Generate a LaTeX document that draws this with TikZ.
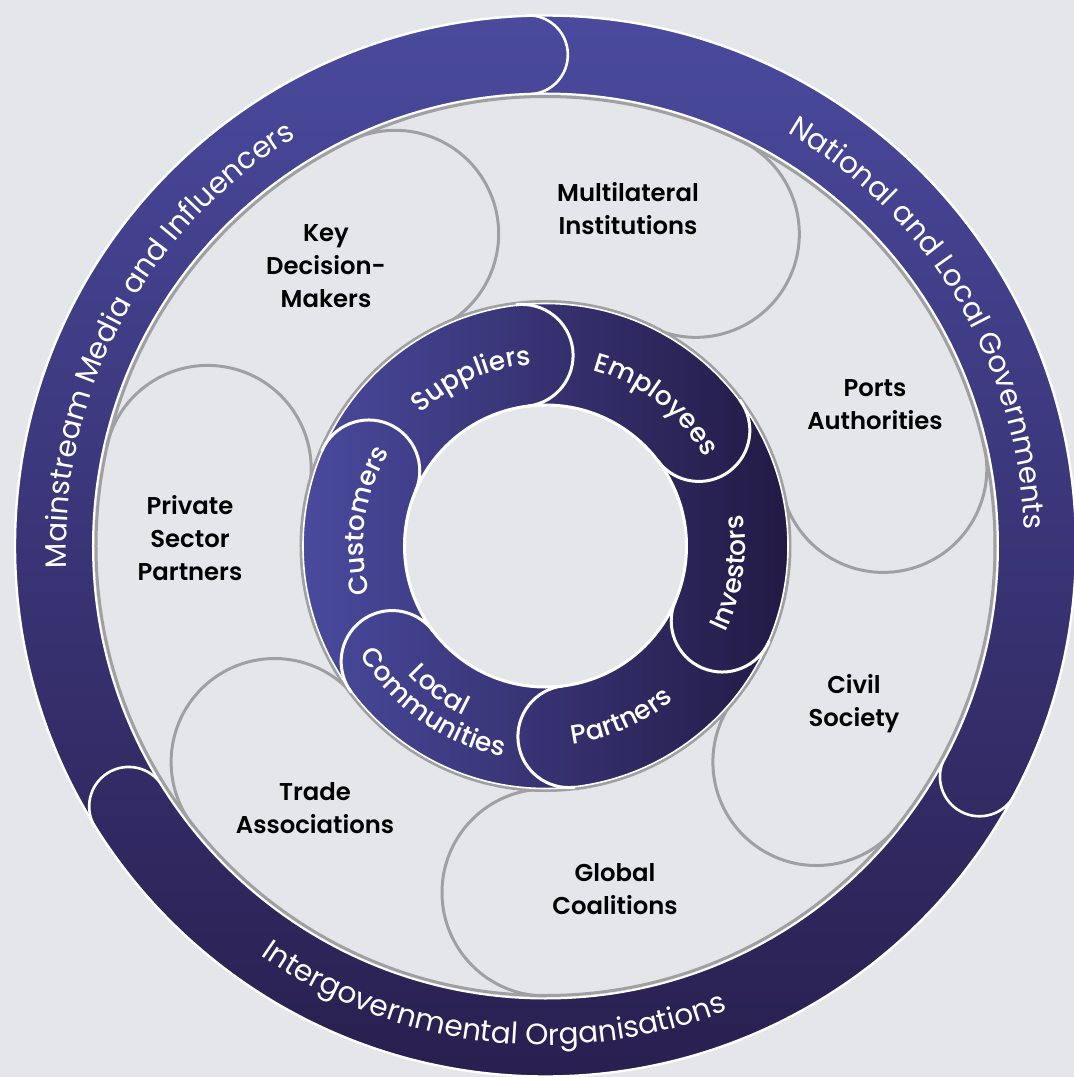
\documentclass[tikz,border=0pt]{standalone}
\usepackage{fontspec}
\usetikzlibrary{decorations.text}

\IfFontExistsTF{Poppins SemiBold}
  {\newfontfamily\labelfont{Poppins SemiBold}}
  {\IfFontExistsTF{Poppins Medium}
     {\newfontfamily\labelfont{Poppins Medium}}
     {\newfontfamily\labelfont{Poppins}[FakeBold=1.5]}}
\IfFontExistsTF{Poppins Medium}
  {\newfontfamily\wheelfont{Poppins Medium}}
  {\newfontfamily\wheelfont{Poppins}}
\newfontfamily\ringfont{Poppins}

\definecolor{paper}{HTML}{E5E6EA}
\definecolor{lobeline}{HTML}{A0A0A3}
\definecolor{outertop}{HTML}{4A4A9E}
\definecolor{outerbot}{HTML}{291F4F}
\definecolor{innerleft}{HTML}{4A4A9E}
\definecolor{innerright}{HTML}{221A44}

\begin{document}
\begin{tikzpicture}[x=1pt,y=1pt,
  sep/.style={draw=white, line width=2.6pt},
  lobe/.style={draw=lobeline, line width=3pt},
  label/.style={font=\labelfont\fontsize{24.3}{33}\selectfont, align=center, text=black, inner sep=0pt},
  ringtext/.style={decorate, decoration={text along path, text align=center, text color=white,
      text={|\ringfont\fontsize{29.5}{30}\selectfont|#1}}},
  wheeltext/.style={decorate, decoration={text along path, text align=center, text color=white,
      text={|\wheelfont\fontsize{26.5}{27}\selectfont|#1}}},
]
\useasboundingbox (-545.5,-531) rectangle (528.5,546);
\fill[paper] (-545.5,-531) rectangle (528.5,546);
\clip (-545.5,-531) rectangle (528.5,546);

% outer ring: three overlapping bands with rounded leading ends
\shade[top color=outertop, bottom color=outerbot, even odd rule]
  (0,0) circle[radius=531] (0,0) circle[radius=452];
\draw[white, line width=2.4pt] (0,0) circle[radius=530.5];
\draw[white, line width=2pt] (0,0) circle[radius=452.5];
\foreach \a in {92,-28,-148}
  \draw[sep] (\a:452) arc[start angle=\a-180, end angle=\a, radius=39.5];

% middle disk with seven lobes
\fill[paper] (0,0) circle[radius=451];
\draw[lobe] (0,0) circle[radius=449.5];
\foreach \k in {0,...,6} {
  \pgfmathsetmacro\a{-90+\k*360/7}
  \draw[lobe] (\a:243) arc[start angle=\a-180, end angle=\a, radius=103.5];
}

% inner ring with six segments
\shade[left color=innerleft, right color=innerright, even odd rule]
  (0,0) circle[radius=243] (0,0) circle[radius=141];
\draw[lobeline, line width=3pt] (0,0) circle[radius=244.5];
\draw[white, line width=1.6pt] (0,0) circle[radius=242.5];
\draw[white, line width=3pt] (0,0) circle[radius=141];
\foreach \a in {97,37,-23,-83,-143,157}
  \draw[sep, line width=3pt] (\a:141) arc[start angle=\a-180, end angle=\a, radius=51];

% outer ring labels
\path[ringtext={Mainstream Media and Influencers}]
  (222:479) arc[start angle=222, end angle=82, radius=479];
\path[ringtext={National and Local Governments}]
  (100.8:479) arc[start angle=100.8, end angle=-39.2, radius=479];
\path[ringtext={Intergovernmental Organisations}]
  (-166.7:499) arc[start angle=-166.7, end angle=-26.7, radius=499];

% inner ring labels
\path[wheeltext={Suppliers}]
  (174:182) arc[start angle=174, end angle=54, radius=182];
\path[wheeltext={Employees}]
  (112:182) arc[start angle=112, end angle=-8, radius=182];
\path[wheeltext={Customers}]
  (232:182) arc[start angle=232, end angle=112, radius=182];
\path[wheeltext={Investors}]
  (-68.4:200) arc[start angle=-68.4, end angle=51.6, radius=200];
\path[wheeltext={Partners}]
  (-126.2:200) arc[start angle=-126.2, end angle=-6.2, radius=200];
\path[wheeltext={Local}]
  (173.6:188) arc[start angle=173.6, end angle=293.6, radius=188];
\path[wheeltext={Communities}]
  (174.5:215) arc[start angle=174.5, end angle=294.5, radius=215];

% stakeholder labels
\node[label] (kdm) at (-219.5,280) {Key\\Decision-\\Makers};
\node[label] (mli) at (82.5,337) {Multilateral\\Institutions};
\node[label] (pa)  at (329.5,141.5) {Ports\\Authorities};
\node[label] (psp) at (-355.5,7.5) {Private\\Sector\\Partners};
\node[label] (cs)  at (308.5,-157.5) {Civil\\Society};
\node[label] (ta)  at (-230.5,-262.5) {Trade\\Associations};
\node[label] (gc)  at (69.5,-343) {Global\\Coalitions};
\end{tikzpicture}
\end{document}
